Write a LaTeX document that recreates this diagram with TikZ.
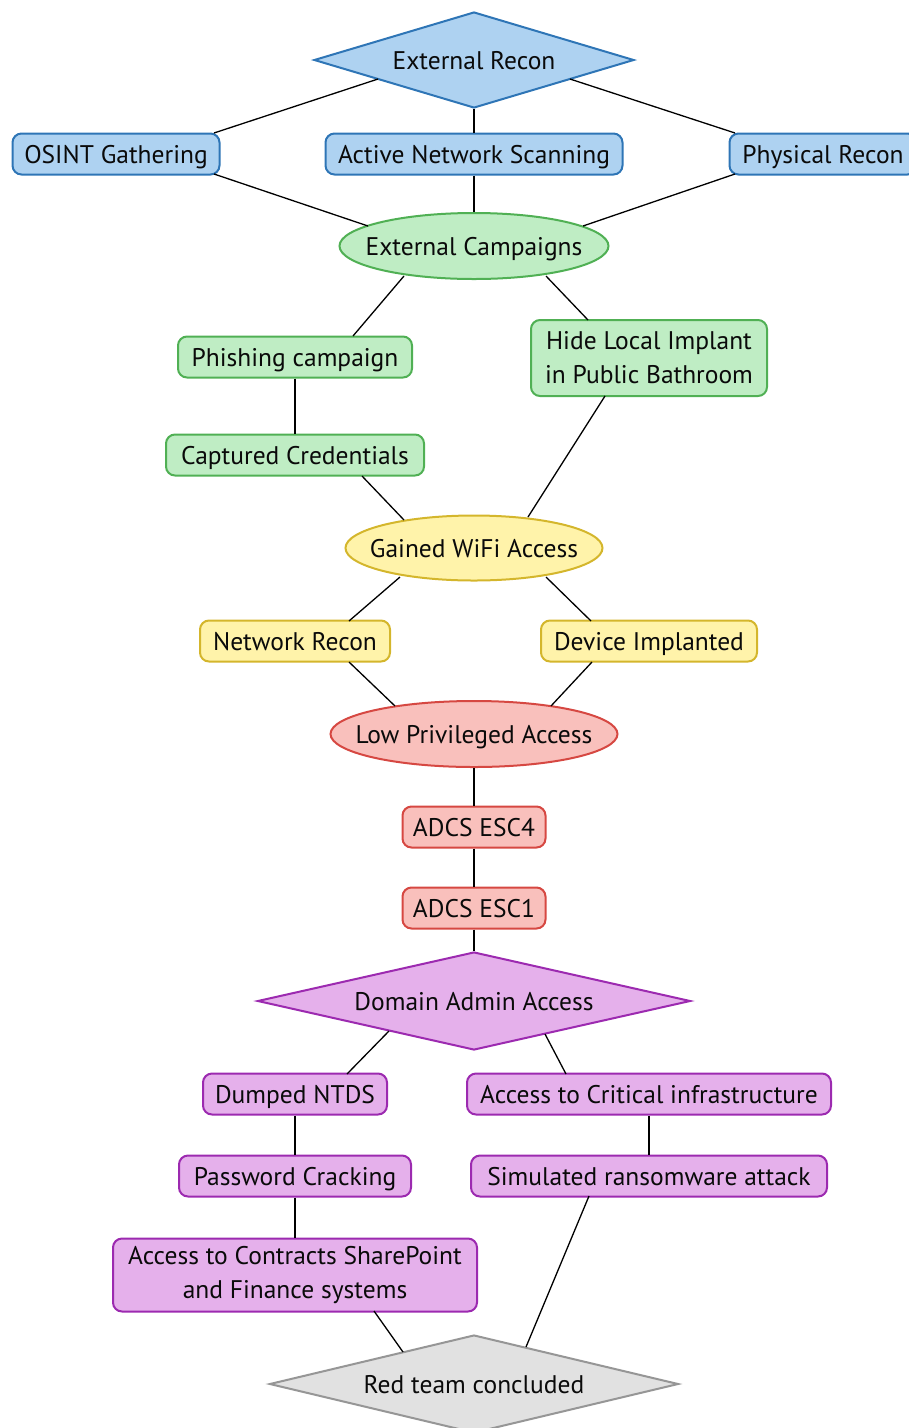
\documentclass[tikz,border=0pt]{standalone}
\usepackage{fontspec}
\setmainfont{PT Sans}
\usetikzlibrary{shapes.geometric,calc}
\definecolor{bfill}{RGB}{174,210,241}
\definecolor{bline}{RGB}{46,117,182}
\definecolor{gfill}{RGB}{191,237,196}
\definecolor{gline}{RGB}{80,176,84}
\definecolor{yfill}{RGB}{255,243,170}
\definecolor{yline}{RGB}{212,182,44}
\definecolor{rfill}{RGB}{249,192,188}
\definecolor{rline}{RGB}{214,72,66}
\definecolor{pfill}{RGB}{229,176,235}
\definecolor{pline}{RGB}{156,42,176}
\definecolor{gyfill}{RGB}{225,225,225}
\definecolor{gyline}{RGB}{150,150,150}
\definecolor{txt}{RGB}{10,10,10}
\tikzset{
  every node/.style={font=\fontsize{25.5}{34}\selectfont, text=txt, align=center},
  box/.style={draw, rounded corners=9pt, line width=2pt, minimum height=41pt, inner sep=0pt},
  one/.style={text height=20pt, text depth=2pt},
  dia/.style={draw, diamond, line width=2pt, inner sep=0pt, aspect=3.5, one},
  ell/.style={draw, ellipse, line width=2pt, inner ysep=0pt, inner xsep=-25pt, one},
  blue/.style={fill=bfill, draw=bline},
  green/.style={fill=gfill, draw=gline},
  yellow/.style={fill=yfill, draw=yline},
  red/.style={fill=rfill, draw=rline},
  purple/.style={fill=pfill, draw=pline},
  grey/.style={fill=gyfill, draw=gyline},
  link/.style={draw=black, line width=1.3pt}
}
\begin{document}
\begin{tikzpicture}[x=1pt,y=1pt]
\useasboundingbox (0,0) rectangle (909,-1428);
% nodes
\node[dia,blue,minimum width=320pt,minimum height=96pt] (er) at (474,-60) {External Recon};
\node[box,one,blue,minimum width=207pt] (osint) at (116,-154) {OSINT Gathering};
\node[box,one,blue,minimum width=297pt] (ans) at (474,-154) {Active Network Scanning};
\node[box,one,blue,minimum width=187pt] (pr) at (823,-154) {Physical Recon};
\node[ell,green,minimum width=269pt,minimum height=66pt] (ec) at (474,-246) {External Campaigns};
\node[box,one,green,minimum width=234pt] (phish) at (295,-357) {Phishing campaign};
\node[box,green,minimum width=236pt,minimum height=76pt] (hide) at (649,-358) {Hide Local Implant\\in Public Bathroom};
\node[box,one,green,minimum width=258pt] (capt) at (295,-455) {Captured Credentials};
\node[ell,yellow,minimum width=257pt,minimum height=65pt] (wifi) at (474,-548) {Gained WiFi Access};
\node[box,one,yellow,minimum width=190pt] (nr) at (295,-641) {Network Recon};
\node[box,one,yellow,minimum width=216pt] (dev) at (649,-641) {Device Implanted};
\node[ell,red,minimum width=287pt,minimum height=66pt] (lpa) at (474,-734) {Low Privileged Access};
\node[box,one,red,minimum width=143pt] (esc4) at (474,-827) {ADCS ESC4};
\node[box,one,red,minimum width=143pt] (esc1) at (474,-908) {ADCS ESC1};
\node[dia,purple,minimum width=433pt,minimum height=98pt] (da) at (474,-1001) {Domain Admin Access};
\node[box,one,purple,minimum width=184pt] (ntds) at (295,-1094) {Dumped NTDS};
\node[box,one,purple,minimum width=364pt] (crit) at (649,-1094) {Access to Critical infrastructure};
\node[box,one,purple,minimum width=232pt] (pwd) at (295,-1176) {Password Cracking};
\node[box,one,purple,minimum width=356pt] (sim) at (649,-1176) {Simulated ransomware attack};
\node[box,purple,minimum width=364pt,minimum height=73pt] (contr) at (295,-1275) {Access to Contracts SharePoint\\and Finance systems};
\node[dia,grey,minimum width=409pt,minimum height=98pt] (red) at (474,-1384) {Red team concluded};
% connectors
\draw[link] ($(er.center)+(-96,-19)$) -- ($(osint.center)+(98,21)$);
\draw[link] (er.south) -- (ans.north);
\draw[link] ($(er.center)+(96,-19)$) -- ($(pr.center)+(-88,21)$);
\draw[link] ($(osint.center)+(98,-20)$) -- ($(ec.center)+(-106,20)$);
\draw[link] (ans.south) -- (ec.north);
\draw[link] ($(pr.center)+(-88,-20)$) -- ($(ec.center)+(109,20)$);
\draw[link] ($(ec.center)+(-70,-30)$) -- ($(phish.center)+(58,21)$);
\draw[link] ($(ec.center)+(72,-30)$) -- ($(hide.center)+(-61,38)$);
\draw[link] (phish.south) -- (capt.north);
\draw[link] ($(capt.center)+(67,-21)$) -- ($(wifi.center)+(-70,28)$);
\draw[link] ($(hide.center)+(-44,-38)$) -- ($(wifi.center)+(54,31)$);
\draw[link] ($(wifi.center)+(-74,-29)$) -- ($(nr.center)+(54,20)$);
\draw[link] ($(wifi.center)+(72,-29)$) -- ($(dev.center)+(-58,20)$);
\draw[link] ($(nr.center)+(54,-21)$) -- ($(lpa.center)+(-79,28)$);
\draw[link] ($(dev.center)+(-57,-21)$) -- ($(lpa.center)+(77,28)$);
\draw[link] (lpa.south) -- (esc4.north);
\draw[link] (esc4.south) -- (esc1.north);
\draw[link] (esc1.south) -- (da.north);
\draw[link] ($(da.center)+(-85,-30)$) -- ($(ntds.center)+(52,20)$);
\draw[link] ($(da.center)+(71,-33)$) -- ($(crit.center)+(-83,20)$);
\draw[link] (ntds.south) -- (pwd.north);
\draw[link] (crit.south) -- (sim.north);
\draw[link] (pwd.south) -- (contr.north);
\draw[link] ($(contr.center)+(79,-36)$) -- ($(red.center)+(-71,32)$);
\draw[link] ($(sim.center)+(-60,-20)$) -- ($(red.center)+(52,37)$);
\end{tikzpicture}
\end{document}
